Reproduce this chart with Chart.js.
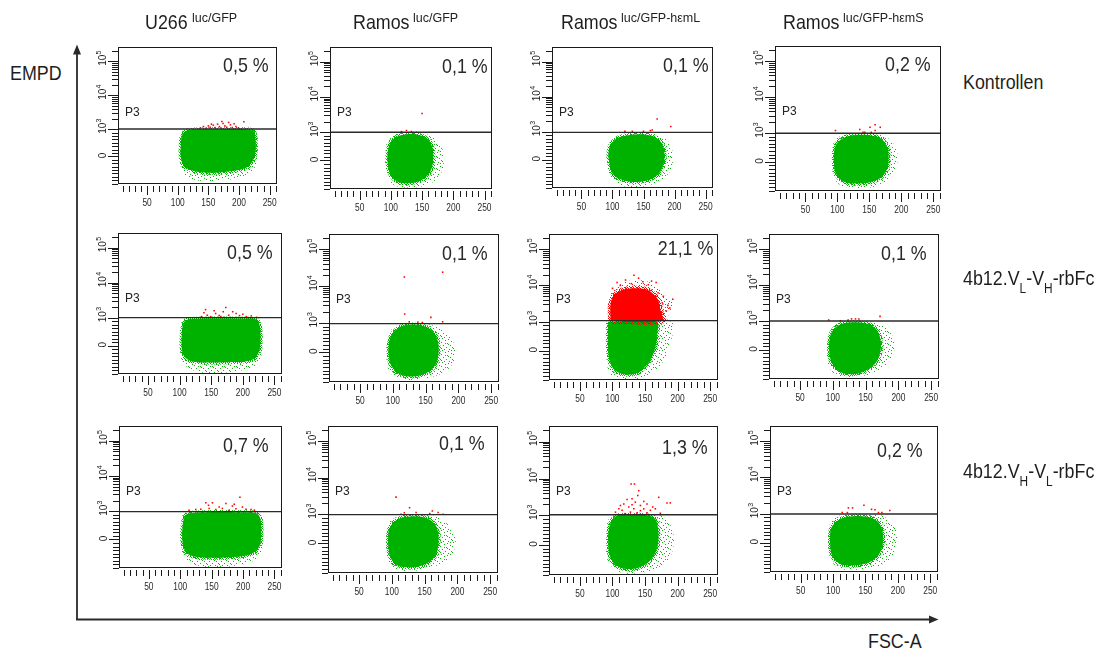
<!DOCTYPE html>
<html><head><meta charset="utf-8">
<script src="https://cdn.jsdelivr.net/npm/chart.js@4/dist/chart.umd.min.js"></script>
<style>
html,body{margin:0;padding:0;background:#fff}
#root{position:relative;width:1105px;height:653px;overflow:hidden;background:#fff}
.t{position:absolute;white-space:nowrap;line-height:1;font-family:"Liberation Sans",Arial,sans-serif;color:#1e1e1e}
.n{transform:scaleX(.85);transform-origin:left top;font-size:21px}
.n sub{font-size:14px;vertical-align:-8px;line-height:0}
.pct{transform:scaleX(.85);transform-origin:right top;font-size:21px;color:#2a2a2a}
.sup{font-size:12.5px}
.p3{font-size:12px;color:#222}
canvas{position:absolute}
svg{position:absolute;left:0;top:0}
</style></head><body><div id="root"></div>
<script>
// ---------- axes / labels ----------
const X_MIN = 2.5, X_MAX = 262, Y_MIN = -0.81, Y_MAX = 3.22;
const xTickValues = [50, 100, 150, 200, 250];
const xTickLabels = ['50', '100', '150', '200', '250'];
const yTickValues = [0, 0.8, 1.8, 2.8];
const yTickLabels = [['0', ''], ['10', '3'], ['10', '4'], ['10', '5']];
const columnNames = ['U266', 'Ramos', 'Ramos', 'Ramos'];
const columnSups = ['luc/GFP', 'luc/GFP', 'luc/GFP-hεmL', 'luc/GFP-hεmS'];
const rowLabels = ['Kontrollen', '4b12.V<sub>L</sub>-V<sub>H</sub>-rbFc', '4b12.V<sub>H</sub>-V<sub>L</sub>-rbFc'];
const percentages = [['0,5 %', '0,1 %', '0,1 %', '0,2 %'], ['0,5 %', '0,1 %', '21,1 %', '0,1 %'], ['0,7 %', '0,1 %', '1,3 %', '0,2 %']];
const gateLevels = [[0.81, 0.8, 0.78, 0.795], [0.8, 0.78, 0.83, 0.8], [0.79, 0.79, 0.82, 0.79]];
const gateName = 'P3';

// ---------- row 1 : Kontrollen ----------
const coreR1C1 = [[106,0.6],[112,0.74],[125,0.79],[170,0.8],[210,0.8],[224,0.74],[227,0.5],[227,0.15],[222,-0.15],[210,-0.35],[180,-0.45],[150,-0.48],[125,-0.42],[110,-0.28],[105,0.0],[105,0.35]];
const fringeR1C1 = [[104,0.65],[112,0.8],[140,0.8],[210,0.8],[228,0.78],[231,0.45],[230,0.0],[225,-0.35],[205,-0.6],[160,-0.72],[125,-0.68],[108,-0.45],[103,0.0]];
const redR1C1 = [[137,0.84],[142,0.88],[146,0.83],[150,0.9],[153,0.86],[158,0.92],[161,0.85],[165,0.95],[168,0.88],[171,0.83],[174,0.97],[177,0.9],[180,0.86],[183,1.0],[186,0.93],[189,0.85],[192,0.96],[195,0.88],[199,0.84],[208,1.02],[172,1.03],[155,0.95]];

const coreR1C2 = [[94,0.05],[97,0.42],[107,0.65],[122,0.74],[142,0.74],[158,0.62],[166,0.4],[168,0.05],[163,-0.32],[150,-0.55],[130,-0.65],[110,-0.6],[98,-0.35]];
const fringeR1C2 = [[91,0.15],[95,0.55],[112,0.77],[150,0.78],[172,0.6],[183,0.3],[185,-0.05],[178,-0.45],[160,-0.68],[130,-0.77],[105,-0.7],[92,-0.35]];
const redR1C2 = [[117,0.82],[125,0.85],[133,0.82],[141,0.8],[150,1.33]];

const coreR1C3 = [[93,0.1],[96,0.4],[108,0.62],[125,0.7],[150,0.72],[168,0.65],[180,0.45],[184,0.1],[180,-0.25],[168,-0.5],[145,-0.63],[120,-0.6],[100,-0.4]];
const fringeR1C3 = [[92,0.2],[98,0.55],[120,0.75],[160,0.76],[185,0.6],[196,0.3],[197,-0.1],[188,-0.45],[165,-0.7],[135,-0.78],[110,-0.7],[93,-0.35]];
const redR1C3 = [[172,1.16],[194,0.95],[164,0.85],[161,0.83],[150,0.81],[132,0.81],[120,0.81]];

const coreR1C4 = [[94,0.1],[97,0.45],[108,0.65],[125,0.74],[150,0.74],[168,0.65],[178,0.4],[180,0.05],[175,-0.3],[160,-0.52],[135,-0.6],[110,-0.55],[97,-0.3]];
const fringeR1C4 = [[92,0.2],[96,0.6],[118,0.78],[165,0.78],[183,0.6],[193,0.3],[193,-0.1],[182,-0.45],[160,-0.68],[130,-0.73],[105,-0.65],[93,-0.35]];
const redR1C4 = [[97,0.87],[135,0.9],[151,0.96],[159,1.03],[167,0.96],[140,0.82],[143,0.82],[153,0.82],[159,0.87]];

// ---------- row 2 : 4b12.VL-VH-rbFc ----------
const coreR2C1 = [[104,0.5],[108,0.7],[120,0.76],[200,0.77],[222,0.74],[227,0.55],[228,0.2],[226,-0.15],[215,-0.4],[185,-0.47],[150,-0.48],[120,-0.45],[107,-0.3],[103,0.0]];
const fringeR2C1 = [[102,0.3],[106,0.74],[140,0.79],[215,0.79],[229,0.7],[231,0.2],[229,-0.3],[215,-0.62],[180,-0.75],[140,-0.78],[115,-0.65],[102,-0.35]];
const redR2C1 = [[134.7,0.83],[138.5,0.94],[141,1.03],[143.8,0.87],[149,0.83],[157,0.92],[162.6,0.86],[169,0.97],[173,1.09],[177.6,0.87],[184,0.97],[189.4,0.92],[194.8,0.86],[200,0.9],[205.5,0.83],[213.5,0.85],[221.6,0.81],[165.3,0.83],[154.6,1.0]];

const coreR2C2 = [[93,0.05],[96,0.4],[105,0.62],[120,0.74],[140,0.74],[158,0.62],[167,0.4],[170,0.05],[165,-0.35],[150,-0.58],[130,-0.66],[110,-0.6],[97,-0.35]];
const fringeR2C2 = [[90,0.1],[93,0.5],[110,0.75],[150,0.78],[175,0.6],[190,0.35],[196,0.0],[188,-0.4],[165,-0.65],[130,-0.75],[105,-0.7],[92,-0.4]];
const redR2C2 = [[117.5,2.05],[176,2.18],[118,1.04],[158,0.95],[125,0.83],[138,0.82],[176,0.83],[145,0.81]];

const coreR2C3 = [[93,0.8],[168,0.8],[169,0.5],[166,0.1],[160,-0.2],[150,-0.45],[138,-0.62],[120,-0.66],[104,-0.55],[96,-0.3],[93,0.1]];
const fringeR2C3 = [[91,0.8],[190,0.8],[193,0.55],[188,0.15],[178,-0.3],[160,-0.62],[140,-0.78],[115,-0.8],[98,-0.68],[91,-0.3]];
const redR2C3 = [[133,2.08],[107,1.88],[167,1.88],[192.5,1.42],[182,1.1],[177,1.29],[146.7,1.9],[129,1.85],[120,1.95],[160,1.92],[185,1.25],[112,1.8],[170,1.6],[178,1.5],[188,1.18],[140,2.0],[100,1.72],[155,1.82]];
const redCoreR2C3 = [[97,0.82],[97,1.28],[102,1.52],[113,1.66],[130,1.72],[150,1.7],[162,1.58],[170,1.4],[174,1.1],[176,0.82]];
const redFringeR2C3 = [[94,0.82],[94,1.4],[102,1.7],[118,1.88],[135,1.95],[155,1.9],[170,1.75],[182,1.5],[192,1.3],[186,1.0],[182,0.82]];

const coreR2C4 = [[94,0.1],[97,0.45],[108,0.68],[125,0.76],[150,0.74],[165,0.6],[172,0.35],[173,0.0],[166,-0.35],[150,-0.58],[130,-0.68],[110,-0.6],[97,-0.3]];
const fringeR2C4 = [[92,0.2],[96,0.55],[115,0.78],[160,0.78],[180,0.62],[192,0.35],[194,0.0],[185,-0.35],[160,-0.65],[130,-0.76],[105,-0.7],[92,-0.35]];
const redR2C4 = [[123.3,0.83],[128.5,0.86],[134.6,0.86],[139.7,0.86],[172,0.93],[93.6,0.83],[111.5,0.81]];

// ---------- row 3 : 4b12.VH-VL-rbFc ----------
const coreR3C1 = [[104,0.45],[108,0.68],[120,0.76],[200,0.77],[222,0.74],[228,0.55],[229,0.15],[226,-0.2],[212,-0.42],[185,-0.5],[150,-0.52],[120,-0.48],[107,-0.3],[103,0.05]];
const fringeR3C1 = [[102,0.3],[106,0.74],[140,0.79],[215,0.79],[230,0.7],[232,0.2],[230,-0.3],[218,-0.6],[185,-0.75],[145,-0.78],[118,-0.68],[103,-0.4]];
const redR3C1 = [[195,1.2],[151.3,1.04],[145,0.97],[186,1.0],[172.7,1.02],[162,0.92],[199,0.92],[114,0.83],[124.7,0.85],[132.7,0.86],[146,0.88],[156.7,0.85],[167,0.88],[178,0.83],[188.7,0.87],[204.7,0.86],[212.7,0.85],[218,0.83],[140.7,1.04],[183,0.95]];

const coreR3C2 = [[94,0.05],[96,0.4],[106,0.63],[122,0.73],[145,0.73],[162,0.6],[170,0.35],[171,0.0],[166,-0.35],[150,-0.58],[128,-0.66],[108,-0.6],[97,-0.35]];
const fringeR3C2 = [[92,0.15],[95,0.55],[115,0.77],[160,0.77],[180,0.6],[195,0.3],[197,-0.05],[188,-0.4],[162,-0.65],[130,-0.75],[105,-0.7],[92,-0.35]];
const redR3C2 = [[106.4,1.27],[127,0.98],[119,0.84],[137,0.85],[157.7,0.82],[161.8,0.89],[170.5,0.85],[178,0.8],[114,0.8]];

const coreR3C3 = [[93,0.2],[96,0.55],[105,0.78],[125,0.81],[150,0.81],[165,0.72],[170,0.45],[170,0.05],[163,-0.3],[148,-0.55],[128,-0.65],[108,-0.58],[96,-0.3]];
const fringeR3C3 = [[91,0.3],[94,0.7],[110,0.82],[170,0.82],[185,0.65],[193,0.35],[194,0.0],[186,-0.4],[165,-0.65],[135,-0.77],[110,-0.72],[92,-0.4]];
const redR3C3 = [[128.6,1.65],[133.7,1.65],[140.3,1.47],[138.8,1.34],[122.4,1.23],[130,1.25],[153,1.11],[171,1.29],[183.7,1.14],[188.8,1.14],[117.3,1.11],[109.7,0.98],[104.6,0.89],[114.8,0.94],[125,1.03],[132.7,0.98],[142.9,1.07],[148,0.98],[158.2,0.94],[165.8,0.98],[173.5,0.86],[127.6,0.89],[137.8,0.87],[153,0.87],[119.9,0.85],[142.9,0.93],[161.7,1.03],[112.2,1.07],[130,1.09],[135,1.16],[148,1.18]];

const coreR3C4 = [[95,0.05],[97,0.4],[108,0.62],[125,0.72],[150,0.72],[168,0.6],[176,0.35],[177,0.0],[170,-0.35],[155,-0.55],[132,-0.63],[110,-0.58],[98,-0.35]];
const fringeR3C4 = [[93,0.15],[96,0.55],[115,0.77],[170,0.77],[188,0.6],[198,0.3],[197,-0.1],[188,-0.45],[165,-0.68],[135,-0.75],[108,-0.7],[94,-0.35]];
const redR3C4 = [[123.6,0.96],[130,0.96],[147.6,1.03],[159.3,0.92],[164.7,0.91],[187.6,0.89],[114,0.83],[122,0.83],[170,0.83],[175.3,0.83]];

// ---------- layout (page pixels) ----------
const boxes = [
  [[118,46,277,184],[330,46,492,189],[552,46,713,188],[775,45,941,191]],
  [[118,232,282,374],[329,233,499,382],[549,233,718,380],[769,233,939,379]],
  [[119,425,282,568],[328,425,498,573],[549,425,718,575],[770,425,938,572]]
];
const pctPos = [
  [[269,56.7],[488,58],[709,56.7],[931,55.7]],
  [[273,243.3],[488,245],[713,240],[927,245]],
  [[269,436.7],[485,435],[708,438.3],[923,441.7]]
];
const headerPos = [[145,192],[353,413],[561,621],[783,843]];
const rowLabelTop = [70.6, 267.3, 460];

const panelData = [
  [[coreR1C1,fringeR1C1,redR1C1],[coreR1C2,fringeR1C2,redR1C2],[coreR1C3,fringeR1C3,redR1C3],[coreR1C4,fringeR1C4,redR1C4]],
  [[coreR2C1,fringeR2C1,redR2C1],[coreR2C2,fringeR2C2,redR2C2],[coreR2C3,fringeR2C3,redR2C3,redCoreR2C3,redFringeR2C3],[coreR2C4,fringeR2C4,redR2C4]],
  [[coreR3C1,fringeR3C1,redR3C1],[coreR3C2,fringeR3C2,redR3C2],[coreR3C3,fringeR3C3,redR3C3],[coreR3C4,fringeR3C4,redR3C4]]
];

const GREEN = '#00b200', RED = '#ff0000', INK = '#1a1a1a';
const root = document.getElementById('root');

// textures (style only)
function speckle(color, dots, size) {
  const c = document.createElement('canvas'); c.width = c.height = size;
  const g = c.getContext('2d'); g.fillStyle = color;
  dots.forEach(([a, b]) => g.fillRect(a, b, 1, 1));
  return g.createPattern(c, 'repeat');
}
const SPARSE = [[1,0],[7,1],[4,2],[10,3],[0,4],[6,5],[9,7],[2,7],[5,9],[11,9],[8,11],[3,11],[0,10],[7,6],[10,0],[4,5]];
const DENSE = [[0,0],[2,0],[3,1],[5,1],[1,2],[4,2],[0,3],[2,3],[5,3],[1,4],[3,4],[4,5],[0,5],[2,5]];
const greenSparse = speckle('#10b410', SPARSE, 12);
const greenDense = speckle(GREEN, DENSE, 6);
const redSparse = speckle('#ff1a1a', SPARSE, 12);
const redDense = speckle(RED, DENSE, 6);

const FONT = '"Liberation Sans", Arial, sans-serif';
const facsAxes = {
  id: 'facsAxes',
  afterDraw(chart) {
    const { ctx, chartArea: a, scales: { x, y } } = chart;
    ctx.save();
    ctx.strokeStyle = INK; ctx.fillStyle = INK; ctx.lineWidth = 1;
    ctx.strokeRect(a.left + 0.5, a.top + 0.5, a.right - a.left - 1, a.bottom - a.top - 1);
    // x comb
    ctx.beginPath();
    for (let v = 10; v <= 260; v += 10) {
      const px = Math.round(x.getPixelForValue(v)) + 0.5;
      const len = xTickValues.includes(v) ? 9 : 6;
      ctx.moveTo(px, a.bottom + 2); ctx.lineTo(px, a.bottom + 2 + len);
    }
    ctx.stroke();
    ctx.fillStyle = '#2a2a2a';
    ctx.font = '10.5px ' + FONT; ctx.textAlign = 'center'; ctx.textBaseline = 'middle';
    xTickValues.forEach((v, i) => {
      ctx.save(); ctx.translate(x.getPixelForValue(v), a.bottom + 19.5); ctx.scale(0.8, 1);
      ctx.fillText(xTickLabels[i], 0, 0); ctx.restore();
    });
    // y ruler
    ctx.fillStyle = INK;
    const minor = [];
    for (let k = -8; k < 8; k++) if (k !== 0) minor.push(k / 10);
    yTickValues.slice(1).forEach(d => { for (let k = 2; k <= 9; k++) { const v = d + Math.log10(k); if (v < Y_MAX) minor.push(v); } });
    ctx.beginPath();
    minor.forEach(v => { const py = Math.round(y.getPixelForValue(v)) + 0.5; ctx.moveTo(a.left - 6, py); ctx.lineTo(a.left, py); });
    yTickValues.forEach(v => { const py = Math.round(y.getPixelForValue(v)) + 0.5; ctx.moveTo(a.left - 10, py); ctx.lineTo(a.left, py); });
    ctx.stroke();
    yTickValues.forEach((v, i) => {
      const [m, s] = yTickLabels[i];
      ctx.save(); ctx.translate(a.left - 15, y.getPixelForValue(v)); ctx.rotate(-Math.PI / 2);
      ctx.font = '10px ' + FONT; ctx.textAlign = 'center'; ctx.textBaseline = 'middle';
      ctx.fillText(m, 1, 0);
      if (s) {
        const w = ctx.measureText(m).width;
        ctx.font = '7px ' + FONT; ctx.textAlign = 'left';
        ctx.fillText(s, 1 + w / 2 + 0.3, -3.6);
      }
      ctx.restore();
    });
    ctx.restore();
  }
};

function pts(arr) { return arr.map(p => ({ x: p[0], y: p[1] })); }
function poly(arr, fillStyle, edge, edgeWidth) {
  const d = pts(arr); d.push({ x: arr[0][0], y: arr[0][1] });
  return { data: d, borderWidth: edge ? edgeWidth : 0, borderColor: edge || 'rgba(0,0,0,0)', backgroundColor: fillStyle,
    fill: 'shape', pointRadius: 0, tension: 0.35, borderJoinStyle: 'round' };
}

function addText(cls, html, left, top, extra) {
  const d = document.createElement('div'); d.className = 't ' + cls; d.innerHTML = html;
  d.style.top = top + 'px';
  if (left !== null) d.style.left = left + 'px';
  if (extra) Object.assign(d.style, extra);
  root.appendChild(d); return d;
}

const padL = 32, padT = 3, padR = 4, padB = 28;
for (let r = 0; r < 3; r++) {
  for (let c = 0; c < 4; c++) {
    const [L, T, R, B] = boxes[r][c];
    const [core, fringe, red, redCore, redFringe] = panelData[r][c];
    const g = gateLevels[r][c];
    const cv = document.createElement('canvas');
    const w = R - L + padL + padR, h = B - T + padT + padB;
    cv.width = w; cv.height = h;
    cv.style.left = (L - padL) + 'px'; cv.style.top = (T - padT) + 'px';
    cv.style.width = w + 'px'; cv.style.height = h + 'px';
    root.appendChild(cv);
    const datasets = [
      { data: [{ x: X_MIN, y: g }, { x: X_MAX, y: g }], borderColor: '#2a2a2a', borderWidth: 1.4, pointRadius: 0, fill: false, tension: 0 },
      { data: pts(red), showLine: false, pointStyle: 'rect', pointRadius: 1.1, pointBorderWidth: 0, pointBackgroundColor: RED, borderColor: RED, backgroundColor: RED }
    ];
    if (redCore) { datasets.push(poly(redCore, RED, redDense, 5)); datasets.push(poly(redFringe, redSparse)); }
    datasets.push(poly(core, GREEN, greenDense, 4));
    datasets.push(poly(fringe, greenSparse));
    new Chart(cv, {
      type: 'line',
      data: { datasets },
      options: {
        responsive: false, animation: false, events: [],
        layout: { padding: { left: padL, top: padT, right: padR, bottom: padB } },
        scales: {
          x: { type: 'linear', min: X_MIN, max: X_MAX, display: false },
          y: { type: 'linear', min: Y_MIN, max: Y_MAX, display: false }
        },
        plugins: { legend: { display: false }, tooltip: { enabled: false } }
      },
      plugins: [facsAxes]
    });
    const [px, py] = pctPos[r][c];
    addText('pct', percentages[r][c], null, py - 2.7, { right: (1105 - px) + 'px' });
    addText('p3', gateName, L + 7, T + 62 - 1.6);
  }
}

// headers
columnNames.forEach((n, i) => {
  addText('n', n, headerPos[i][0], 10.6);
  addText('sup', columnSups[i], headerPos[i][1], 12.4);
});
rowLabels.forEach((t, i) => addText('n', t, 963, rowLabelTop[i]));
addText('n', 'EMPD', 10, 62.3);
addText('n', 'FSC-A', 868, 630.3);

// axis arrows
const svgNS = 'http://www.w3.org/2000/svg';
const svg = document.createElementNS(svgNS, 'svg');
svg.setAttribute('width', 1105); svg.setAttribute('height', 653);
svg.innerHTML = '<line x1="77" y1="620" x2="77" y2="52" stroke="#2a2a2a" stroke-width="1.8"/>' +
  '<polygon points="77,44.5 73,54.5 81,54.5" fill="#2a2a2a"/>' +
  '<line x1="76.1" y1="619.5" x2="931" y2="619.5" stroke="#2a2a2a" stroke-width="1.8"/>' +
  '<polygon points="938.5,619.5 929,615.5 929,623.5" fill="#2a2a2a"/>';
root.appendChild(svg);
</script></body></html>
